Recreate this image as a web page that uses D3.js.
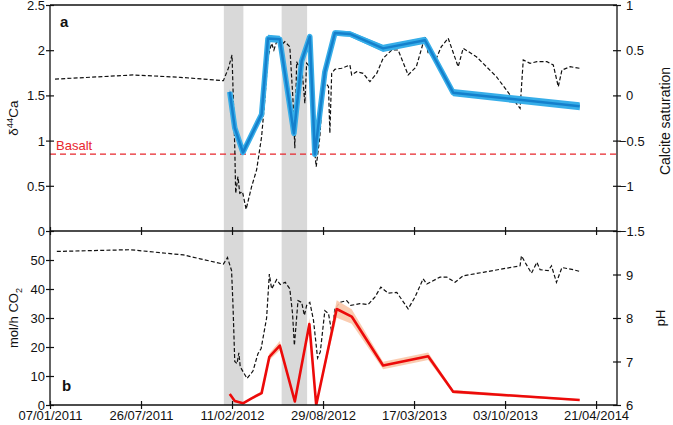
<!DOCTYPE html>
<html><head><meta charset="utf-8">
<script src="https://cdn.jsdelivr.net/npm/d3@7"></script>
<style>body{margin:0;background:#fff;} text{font-family:"Liberation Sans",Arial,sans-serif;fill:#111;}</style>
</head><body><svg id="c" width="673" height="425"></svg>
<script>
// ---------- data ----------
const xTicks = ["2011-01-07","2011-07-26","2012-02-11","2012-08-29","2013-03-17","2013-10-03","2014-04-21"];
const xDomain = ["2011-01-07","2014-06-06"];
const shadeStart = ["2012-01-24","2012-05-30"];
const shadeEnd   = ["2012-03-07","2012-07-25"];
const basalt = 0.85;

const caDates = ["2012-02-06","2012-02-17","2012-03-06","2012-04-16","2012-04-30","2012-05-26","2012-06-26","2012-07-13","2012-07-31","2012-08-11","2012-09-02","2012-09-24","2012-10-27","2013-01-08","2013-04-10","2013-06-11","2014-03-16"];
const caValues = [1.54,1.14,0.87,1.29,2.13,2.12,1.08,1.88,2.15,0.85,1.76,2.19,2.18,2.02,2.11,1.53,1.38];
const caErr    = [0.03,0.03,0.03,0.03,0.04,0.04,0.03,0.03,0.03,0.03,0.03,0.03,0.03,0.04,0.04,0.04,0.045];

const satDates = ["2011-01-18","2011-07-09","2011-10-20","2012-01-23","2012-02-03","2012-02-11","2012-02-17","2012-02-19","2012-02-24","2012-02-28","2012-03-05","2012-03-13","2012-03-25","2012-04-05","2012-04-16","2012-04-23","2012-04-30","2012-05-08","2012-05-13","2012-05-19","2012-05-26","2012-06-06","2012-06-17","2012-06-24","2012-06-28","2012-07-02","2012-07-07","2012-07-13","2012-07-20","2012-07-24","2012-07-31","2012-08-08","2012-08-14","2012-08-22","2012-08-30","2012-09-10","2012-09-13","2012-09-17","2012-09-24","2012-10-09","2012-10-27","2012-10-31","2012-11-11","2012-11-25","2012-12-10","2012-12-25","2013-01-08","2013-01-27","2013-02-10","2013-03-04","2013-03-22","2013-04-10","2013-04-17","2013-05-05","2013-05-16","2013-05-31","2013-06-22","2013-07-03","2013-08-01","2013-09-14","2013-11-05","2013-11-12","2013-11-27","2013-12-12","2014-01-03","2014-01-17","2014-01-28","2014-02-05","2014-02-23","2014-03-16"];
const satValues = [0.18,0.226,0.20,0.163,0.30,0.447,-0.567,-1.083,-0.899,-1.083,-1.065,-1.26,-1.01,-0.825,-0.457,-0.051,0.428,0.576,0.502,0.594,0.539,0.594,0.539,-0.051,-0.585,0.373,0.317,0.336,-0.087,0.355,0.317,-0.493,-0.789,-0.457,0.17,0.096,-0.419,0.245,0.289,0.30,0.336,0.226,0.262,0.244,0.152,0.244,0.41,0.502,0.502,0.226,0.317,0.649,0.466,0.41,0.539,0.632,0.317,0.521,0.428,0.207,-0.143,0.392,0.355,0.373,0.373,0.336,0.096,0.281,0.317,0.30];

const co2Dates = ["2012-02-06","2012-02-17","2012-03-06","2012-03-25","2012-04-16","2012-05-03","2012-05-26","2012-06-28","2012-07-30","2012-08-14","2012-09-28","2012-10-31","2013-01-08","2013-04-17","2013-06-11","2014-03-16"];
const co2Values = [3.8,1.4,0.6,2.3,4.1,16.6,20.5,1.2,27.9,0,33.1,30.5,13.6,16.8,4.6,1.7];
const co2Err    = [0.5,0.4,0.3,0.4,0.6,1.2,1.6,0.4,2.0,0.3,3.0,2.5,1.3,1.3,0.6,0.3];

const phDates = ["2011-01-22","2011-07-02","2011-10-27","2011-12-03","2012-01-23","2012-02-01","2012-02-10","2012-02-13","2012-02-17","2012-02-22","2012-02-26","2012-02-29","2012-03-15","2012-03-28","2012-04-08","2012-04-15","2012-04-27","2012-05-03","2012-05-08","2012-05-19","2012-05-27","2012-06-07","2012-06-17","2012-06-23","2012-06-27","2012-07-05","2012-07-13","2012-07-19","2012-07-24","2012-07-31","2012-08-08","2012-08-17","2012-08-23","2012-09-02","2012-09-10","2012-09-17","2012-09-24","2012-10-05","2012-10-20","2012-10-29","2012-11-18","2012-12-06","2012-12-21","2013-01-03","2013-01-19","2013-02-07","2013-03-04","2013-03-19","2013-04-06","2013-04-14","2013-05-13","2013-05-28","2013-06-15","2013-07-03","2013-08-16","2013-11-05","2013-11-08","2013-11-16","2013-11-30","2013-12-12","2013-12-19","2014-01-06","2014-01-13","2014-01-24","2014-02-05","2014-03-02","2014-03-16"];
const phValues = [9.53,9.57,9.45,9.36,9.24,9.39,9.09,8.33,7.0,6.95,7.2,6.88,6.61,6.78,7.18,7.3,8.0,9.01,8.67,8.88,8.77,8.82,8.67,8.10,7.37,8.40,8.36,8.06,8.29,8.36,7.95,7.08,7.22,8.17,8.10,7.68,8.20,8.36,8.40,8.29,8.33,8.31,8.48,8.71,8.57,8.59,8.21,8.48,8.90,8.78,8.94,8.94,8.82,8.97,9.05,9.20,9.43,9.28,9.03,9.28,9.11,9.09,9.20,8.82,9.16,9.11,9.07];

const leftTopTicks = [0,0.5,1,1.5,2,2.5];
const rightTopTicks = [-1.5,-1,-0.5,0,0.5,1];
const leftBotTicks = [0,10,20,30,40,50];
const rightBotTicks = [6,7,8,9];

// ---------- layout ----------
const L = 50, R = 617, T = 5, M = 231, B = 405;
const parse = d3.timeParse("%Y-%m-%d");
const svg = d3.select("#c");

const x = d3.scaleTime().domain(xDomain.map(parse)).range([L, R]);
const yCa = d3.scaleLinear().domain([0, 2.5]).range([M, T]);
const ySat = d3.scaleLinear().domain([-1.5, 1]).range([M, T]);
const yCo2 = d3.scaleLinear().domain([0, 60]).range([B, M]);
const yPh = d3.scaleLinear().domain([6, 10]).range([B, M]);

const defs = svg.append("defs");
defs.append("clipPath").attr("id","clipTop").append("rect").attr("x",L).attr("y",T).attr("width",R-L).attr("height",M-T);
defs.append("clipPath").attr("id","clipBot").append("rect").attr("x",L).attr("y",M).attr("width",R-L).attr("height",B-M);

// shaded periods
svg.append("g").selectAll("rect").data(shadeStart.map((s,i)=>[parse(s),parse(shadeEnd[i])])).join("rect")
  .attr("x", d=>x(d[0])).attr("width", d=>x(d[1])-x(d[0]))
  .attr("y", T).attr("height", B-T).attr("fill", "#d9d9d9");

// basalt line
svg.append("line").attr("x1",L).attr("x2",R).attr("y1",yCa(basalt)).attr("y2",yCa(basalt))
  .attr("stroke","#e8262d").attr("stroke-width",1.3).attr("stroke-dasharray","6,4");
svg.append("text").attr("x",L+6).attr("y",yCa(basalt)-4).attr("fill","#e8262d").style("fill","#e8262d")
  .attr("font-size",13).text("Basalt");

const gTop = svg.append("g").attr("clip-path","url(#clipTop)");
const gBot = svg.append("g").attr("clip-path","url(#clipBot)");

// calcite saturation dashed
const sat = satDates.map((d,i)=>({date:parse(d), v:satValues[i]}));
gTop.append("path").datum(sat).attr("fill","none").attr("stroke","#111").attr("stroke-width",1.2)
  .attr("stroke-dasharray","4,2.2")
  .attr("d", d3.line().x(d=>x(d.date)).y(d=>ySat(d.v)));

// d44Ca
const ca = caDates.map((d,i)=>({date:parse(d), v:caValues[i], e:caErr[i]}));
gTop.append("path").datum(ca).attr("fill","#37aee9")
  .attr("d", d3.area().x(d=>x(d.date)).y0(d=>yCa(d.v-d.e)).y1(d=>yCa(d.v+d.e)));
gTop.append("path").datum(ca).attr("fill","none").attr("stroke","#37aee9").attr("stroke-width",5.5).attr("stroke-linejoin","round")
  .attr("d", d3.line().x(d=>x(d.date)).y(d=>yCa(d.v)));
gTop.append("path").datum(ca).attr("fill","none").attr("stroke","#1580cc").attr("stroke-width",2.5).attr("stroke-linejoin","round")
  .attr("d", d3.line().x(d=>x(d.date)).y(d=>yCa(d.v)));

// pH dashed
const ph = phDates.map((d,i)=>({date:parse(d), v:phValues[i]}));
gBot.append("path").datum(ph).attr("fill","none").attr("stroke","#111").attr("stroke-width",1.2)
  .attr("stroke-dasharray","4,2.2")
  .attr("d", d3.line().x(d=>x(d.date)).y(d=>yPh(d.v)));

// CO2
const co2 = co2Dates.map((d,i)=>({date:parse(d), v:co2Values[i], e:co2Err[i]}));
gBot.append("path").datum(co2).attr("fill","#f9c6a8").attr("opacity",0.9)
  .attr("d", d3.area().x(d=>x(d.date)).y0(d=>yCo2(d.v-d.e)).y1(d=>yCo2(d.v+d.e)));
gBot.append("path").datum(co2).attr("fill","none").attr("stroke","#ec0a0a").attr("stroke-width",2.6).attr("stroke-linejoin","round")
  .attr("d", d3.line().x(d=>x(d.date)).y(d=>yCo2(d.v)));

// ---------- axes ----------
const fmtNum = d => (d<0 ? "\u2212" + Math.abs(d) : String(d));
function cross(g, horiz){
  g.select(".domain").remove();
  g.selectAll(".tick line").attr("stroke","#111").attr("stroke-width",1.2)
    .attr(horiz?"y1":"x1",-4).attr(horiz?"y2":"x2",4);
  g.selectAll(".tick text").attr("font-size",13).attr("font-family",null).style("fill","#111");
}
// left
const aLT = svg.append("g").attr("transform",`translate(${L},0)`)
  .call(d3.axisLeft(yCa).tickValues(leftTopTicks).tickFormat(fmtNum).tickSize(4).tickPadding(2));
cross(aLT,false); aLT.selectAll(".tick text").attr("x",-5).attr("dy","0.35em");
const aLB = svg.append("g").attr("transform",`translate(${L},0)`)
  .call(d3.axisLeft(yCo2).tickValues(leftBotTicks).tickFormat(fmtNum).tickSize(4));
cross(aLB,false); aLB.selectAll(".tick text").attr("x",-5).attr("dy","0.35em");
// right
const aRT = svg.append("g").attr("transform",`translate(${R},0)`)
  .call(d3.axisRight(ySat).tickValues(rightTopTicks).tickFormat(fmtNum).tickSize(4));
cross(aRT,false); aRT.selectAll(".tick text").attr("x",d=>d<0?2:9).attr("dy","0.35em");
const aRB = svg.append("g").attr("transform",`translate(${R},0)`)
  .call(d3.axisRight(yPh).tickValues(rightBotTicks).tickFormat(fmtNum).tickSize(4));
cross(aRB,false); aRB.selectAll(".tick text").attr("x",9).attr("dy","0.35em");
// x axes
const tickDates = xTicks.map(parse);
const aXM = svg.append("g").attr("transform",`translate(0,${M})`)
  .call(d3.axisBottom(x).tickValues(tickDates).tickFormat(""));
cross(aXM,true);
const aXB = svg.append("g").attr("transform",`translate(0,${B})`)
  .call(d3.axisBottom(x).tickValues(tickDates).tickFormat(d3.timeFormat("%d/%m/%Y")));
cross(aXB,true); aXB.selectAll(".tick text").attr("y",6).attr("dy","0.71em");

// frame lines
const fr = svg.append("g").attr("stroke","#111").attr("stroke-width",1.3);
fr.append("line").attr("x1",L).attr("x2",R).attr("y1",T).attr("y2",T);
fr.append("line").attr("x1",L).attr("x2",R).attr("y1",M).attr("y2",M);
fr.append("line").attr("x1",L).attr("x2",R).attr("y1",B).attr("y2",B);
fr.append("line").attr("x1",L).attr("x2",L).attr("y1",T).attr("y2",B);
fr.append("line").attr("x1",R).attr("x2",R).attr("y1",T).attr("y2",B);

// titles
function vlabel(tx, ty, parts, size){
  const t = svg.append("text").attr("transform",`translate(${tx},${ty}) rotate(-90)`)
    .attr("text-anchor","middle").attr("font-size",size);
  parts.forEach(p=>{
    const s = t.append("tspan").text(p.t);
    if(p.sup){ s.attr("font-size",size*0.7).attr("dy",-size*0.4); }
    if(p.sub){ s.attr("font-size",size*0.7).attr("dy",size*0.3); }
    if(p.back){ s.attr("dy",p.back); }
  });
}
vlabel(18, 118, [{t:"\u03b4"},{t:"44",sup:true},{t:"Ca",back:13*0.4}], 13.5);
vlabel(18, 318, [{t:"mol/h CO"},{t:"2",sub:true}], 13);
vlabel(670, 121, [{t:"Calcite saturation"}], 14);
vlabel(665, 318, [{t:"pH"}], 13);

svg.append("text").attr("x",60).attr("y",27).attr("font-size",15).attr("font-weight","bold").text("a");
svg.append("text").attr("x",62).attr("y",391).attr("font-size",15).attr("font-weight","bold").text("b");
</script>
</body></html>
